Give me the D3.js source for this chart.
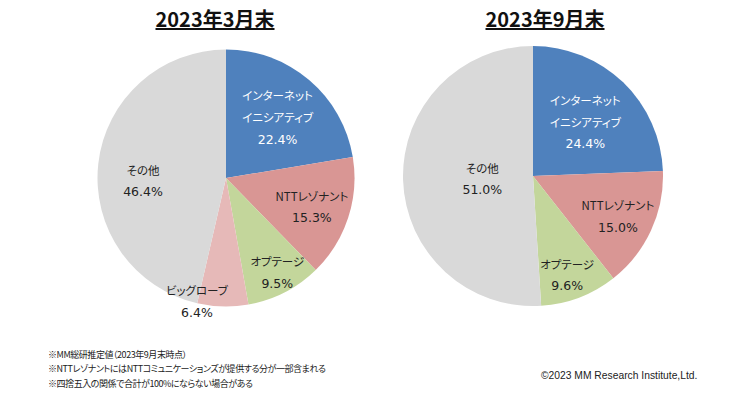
<!DOCTYPE html>
<html>
<head>
<meta charset="utf-8">
<script src="https://cdn.jsdelivr.net/npm/d3@7"></script>
<style>
  body { margin: 0; background: #fff; }
  svg text { font-family: "Noto Sans CJK JP", sans-serif; font-feature-settings: "palt"; }
</style>
</head>
<body>
<div id="chart"></div>
<script>
// Data
const titles = ['2023年3月末', '2023年9月末'];
const marchNames = ['インターネット\nイニシアティブ', 'NTTレゾナント', 'オプテージ', 'ビッグローブ', 'その他'];
const marchValues = [22.4, 15.3, 9.5, 6.4, 46.4];
const septNames = ['インターネット\nイニシアティブ', 'NTTレゾナント', 'オプテージ', 'その他'];
const septValues = [24.4, 15.0, 9.6, 51.0];
const notes = [
    '※MM総研推定値（2023年9月末時点）',
    '※NTTレゾナントにはNTTコミュニケーションズが提供する分が一部含まれる',
    '※四捨五入の関係で合計が100%にならない場合がある'
];
const credit = '©2023 MM Research Institute,Ltd.';

const colorMap = {
    'インターネット\nイニシアティブ': '#4F81BD',
    'NTTレゾナント': '#D99694',
    'オプテージ': '#C3D69B',
    'ビッグローブ': '#E6B9B8',
    'その他': '#D9D9D9'
};

// label placement (fraction of radius + nudge), Excel "best fit" style
const marchLabels = [
    {k: 0.62, dx: 0, dy: 0}, {k: 0.72, dx: -2, dy: 0}, {k: 0.84, dx: 2, dy: -2},
    {k: 0.96, dx: -26, dy: 0}, {k: 0.65, dx: 0, dy: 12}
];
const septLabels = [
    {k: 0.58, dx: 0, dy: 0}, {k: 0.72, dx: 0, dy: 1}, {k: 0.78, dx: -2, dy: 4},
    {k: 0.39, dx: 0, dy: 1}
];

const width = 730, height = 396;
const svg = d3.select('#chart').append('svg')
    .attr('width', width)
    .attr('height', height);

function drawPie(names, values, labels, title, cx, cy, r, titleX) {
    let data = names.map((n, i) => ({name: n, value: values[i], lab: labels[i]}));
    let pie = d3.pie().sort(null).value(d => d.value);
    let arc = d3.arc().innerRadius(0).outerRadius(r);
    let arcs = pie(data);

    let g = svg.append('g').attr('transform', `translate(${cx}, ${cy})`);

    g.selectAll('path')
        .data(arcs).enter()
        .append('path')
        .attr('d', arc)
        .attr('fill', d => colorMap[d.data.name]);

    g.selectAll('.lab')
        .data(arcs).enter()
        .append('text')
        .attr('class', 'lab')
        .attr('text-anchor', 'middle')
        .attr('fill', (d, i) => i == 0 ? '#fff' : '#222')
        .each(function(d) {
            let k = d.data.lab.k;
            let la = d3.arc().innerRadius(r * k).outerRadius(r * k);
            let c = la.centroid(d);
            let lines = d.data.name.split('\n');
            lines.push(d.data.value.toFixed(1) + '%');
            let lh = 22;
            let y0 = c[1] + d.data.lab.dy - (lines.length - 1) * lh / 2;
            let t = d3.select(this);
            lines.forEach((s, j) => {
                let isPct = j == lines.length - 1;
                t.append('tspan')
                    .attr('x', c[0] + d.data.lab.dx)
                    .attr('y', y0 + j * lh)
                    .attr('dominant-baseline', 'central')
                    .style('font-family', isPct ? 'DejaVu Sans, sans-serif' : null)
                    .style('font-size', isPct ? '12.5px' : '11.5px')
                    .text(s);
            });
        });

    svg.append('text')
        .attr('x', titleX)
        .attr('y', 27)
        .attr('text-anchor', 'middle')
        .attr('font-size', '20px')
        .attr('font-weight', 'bold')
        .attr('fill', '#111')
        .style('text-decoration', 'underline')
        .text(title);
}

drawPie(marchNames, marchValues, marchLabels, titles[0], 226, 178, 128.5, 215);
drawPie(septNames, septValues, septLabels, titles[1], 533, 176, 130, 545);

// foot notes
svg.selectAll('.note')
    .data(notes).enter()
    .append('text')
    .attr('class', 'note')
    .attr('x', 48)
    .attr('y', (d, i) => 354 + i * 14.5)
    .attr('dominant-baseline', 'central')
    .attr('font-size', '9px')
    .attr('letter-spacing', '-0.45px')
    .attr('fill', '#222')
    .text(d => d);

svg.append('text')
    .attr('x', 541)
    .attr('y', 375)
    .attr('dominant-baseline', 'central')
    .attr('font-size', '10.3px')
    .attr('fill', '#222')
    .style('font-family', 'Liberation Sans, sans-serif')
    .text(credit);
</script>
</body>
</html>
